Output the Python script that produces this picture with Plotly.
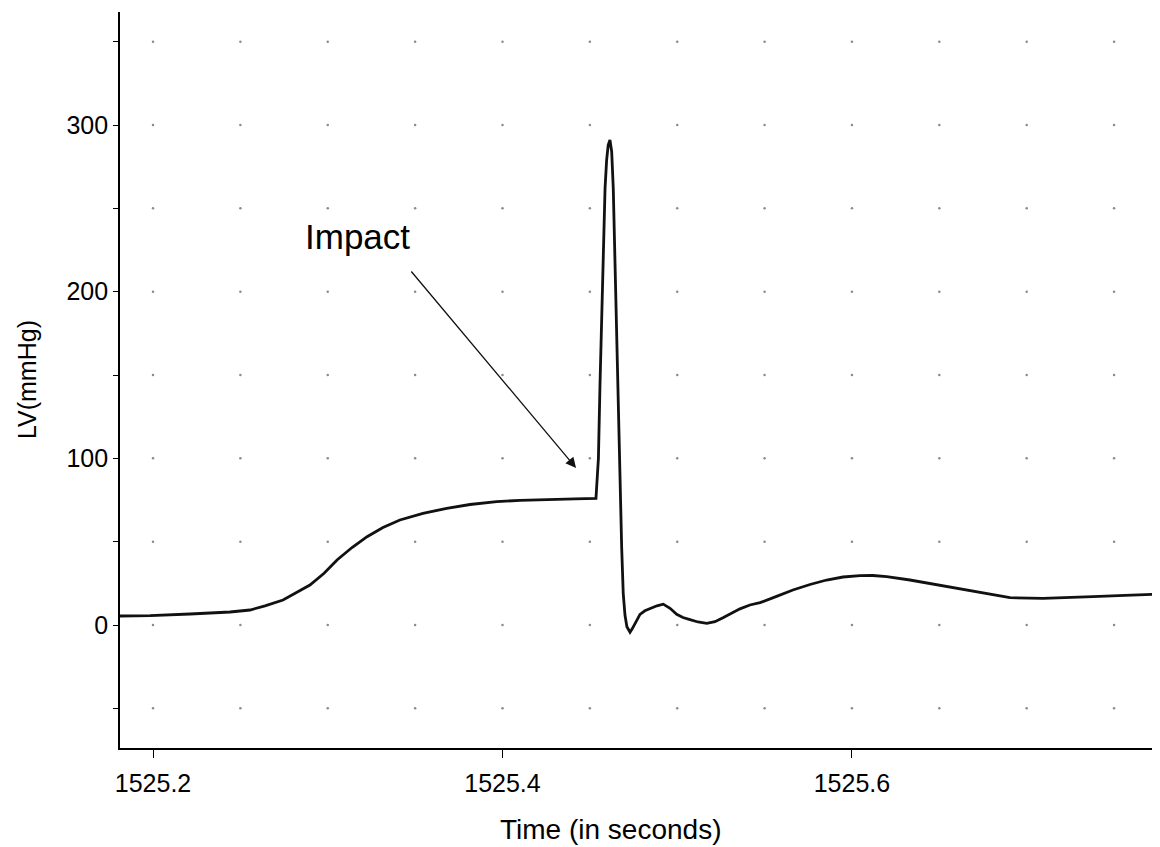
import plotly.graph_objects as go

# ---- data ----
time_s = [1525.1811, 1525.1983, 1525.2212, 1525.2441, 1525.2555, 1525.2641, 1525.2744,
          1525.2824, 1525.2898, 1525.2979, 1525.3053, 1525.3139, 1525.3225, 1525.3316,
          1525.3413, 1525.3545, 1525.3681, 1525.3814, 1525.3967, 1525.4100, 1525.4253,
          1525.4415, 1525.4535, 1525.4549, 1525.4558, 1525.4568, 1525.4577, 1525.4587,
          1525.4596, 1525.4605, 1525.4615, 1525.4625, 1525.4634, 1525.4644, 1525.4654,
          1525.4663, 1525.4672, 1525.4682, 1525.4691, 1525.4701, 1525.4712, 1525.4730,
          1525.4744, 1525.4758, 1525.4787, 1525.4815, 1525.4844, 1525.4884, 1525.4920,
          1525.4959, 1525.4997, 1525.5033, 1525.5073, 1525.5119, 1525.5169, 1525.5216,
          1525.5262, 1525.5308, 1525.5359, 1525.5416, 1525.5474, 1525.5565, 1525.5662,
          1525.5760, 1525.5855, 1525.5949, 1525.6046, 1525.6120, 1525.6199, 1525.6332,
          1525.6424, 1525.6521, 1525.6618, 1525.6714, 1525.6807, 1525.6904, 1525.7093,
          1525.7248, 1525.7379, 1525.7562, 1525.7763]
lv_mmhg = [5.4, 5.6, 6.6, 7.8, 9.0, 11.5, 15.0,
           19.5, 24.0, 31.0, 39.0, 46.5, 53.0, 58.5,
           63.0, 67.0, 70.0, 72.3, 74.0, 74.8, 75.4,
           75.7, 76.0, 100.0, 144.0, 190.0, 230.0, 262.0,
           279.0, 288.0, 291.0, 284.0, 262.0, 215.0, 165.0,
           122.0, 80.0, 47.0, 19.0, 6.0, -1.0, -4.3,
           -2.0, 1.0, 6.4, 8.5, 9.7, 11.5, 12.5,
           10.0, 6.4, 4.5, 3.2, 1.8, 1.0, 2.0,
           4.3, 7.0, 9.7, 12.0, 13.4, 17.0, 21.0,
           24.3, 27.0, 28.8, 29.6, 29.7, 29.0, 27.0,
           25.3, 23.4, 21.7, 20.0, 18.2, 16.4, 16.0,
           16.3, 17.0, 17.8, 18.6]

x_tick_vals = [1525.2, 1525.4, 1525.6]
x_tick_text = ["1525.2", "1525.4", "1525.6"]
y_tick_vals = [0, 100, 200, 300]
y_tick_text = ["0", "100", "200", "300"]
y_minor_vals = [-50, 50, 150, 250, 350]

grid_x = [1525.20, 1525.25, 1525.30, 1525.35, 1525.40, 1525.45,
          1525.50, 1525.55, 1525.60, 1525.65, 1525.70, 1525.75]
grid_y = [-50, 0, 50, 100, 150, 200, 250, 300, 350]

x_range = [1525.1811, 1525.7763]
y_range = [-73.8, 367.8]

impact_label = "Impact"
arrow_head = (1525.4421, 94.2)
arrow_tail = (1525.3471, 213.0)
impact_text_pos = (1525.3173, 233.0)

FONT = "Liberation Sans, Arial, Helvetica, sans-serif"

fig = go.Figure()

# dotted grid intersections
gx = [x for x in grid_x for _ in grid_y]
gy = [y for _ in grid_x for y in grid_y]
fig.add_trace(go.Scatter(x=gx, y=gy, mode="markers",
                         marker=dict(size=2.5, color="#8a8a8a"),
                         hoverinfo="skip", showlegend=False))

fig.add_trace(go.Scatter(x=time_s, y=lv_mmhg, mode="lines",
                         line=dict(color="#111111", width=2.8),
                         showlegend=False))

# page body has an 8px default margin; size the figure to fill the rest
fig.update_layout(
    width=1152, height=839,
    margin=dict(l=112, r=0, t=4, b=99),
    paper_bgcolor="white", plot_bgcolor="white",
    font=dict(family=FONT, color="black"),
    xaxis=dict(range=x_range, showgrid=False, zeroline=False,
               showline=True, linecolor="black", linewidth=1.6,
               ticks="outside", ticklen=8, tickwidth=1.4, tickcolor="black",
               tickvals=x_tick_vals, ticktext=x_tick_text,
               tickfont=dict(size=25, family=FONT, color="black"),
               ticklabelstandoff=4),
    yaxis=dict(range=y_range, showgrid=False, zeroline=False,
               showline=True, linecolor="black", linewidth=1.6,
               ticks="outside", ticklen=5, tickwidth=1.2, tickcolor="black",
               tickvals=y_tick_vals, ticktext=y_tick_text,
               tickfont=dict(size=25, family=FONT, color="black"),
               minor=dict(tickvals=y_minor_vals, ticks="outside",
                          ticklen=5, tickwidth=1.0, tickcolor="black")),
    annotations=[
        dict(x=arrow_head[0], y=arrow_head[1], xref="x", yref="y",
             ax=arrow_tail[0], ay=arrow_tail[1], axref="x", ayref="y",
             text="", showarrow=True, arrowhead=2, arrowsize=1.6,
             arrowwidth=1.3, arrowcolor="#111111"),
        dict(x=impact_text_pos[0], y=impact_text_pos[1], xref="x", yref="y",
             text=impact_label, showarrow=False, xanchor="center", yanchor="middle",
             font=dict(size=35, family=FONT, color="black")),
        dict(x=(610 - 120) / 1040, y=(748 - 829) / 736, xref="paper", yref="paper",
             text="Time (in seconds)", showarrow=False, xanchor="center", yanchor="middle",
             font=dict(size=28, family=FONT, color="black")),
        dict(x=(27 - 120) / 1040, y=0.5, xref="paper", yref="paper",
             text="LV(mmHg)", showarrow=False, textangle=-90,
             xanchor="center", yanchor="middle",
             font=dict(size=25, family=FONT, color="black")),
    ],
)

fig.write_html("out.html")
